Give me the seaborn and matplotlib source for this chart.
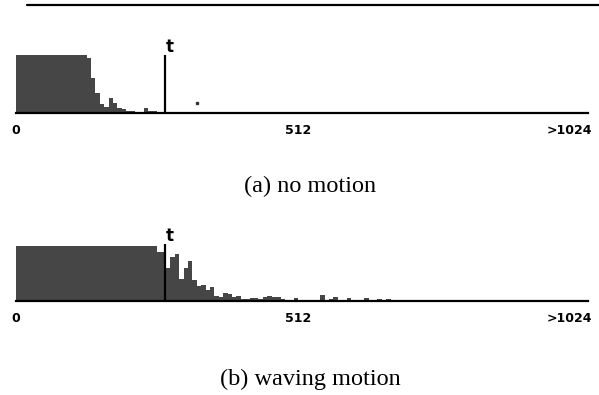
import numpy as np
import pandas as pd
import matplotlib
matplotlib.use("Agg")
import matplotlib.pyplot as plt
from matplotlib.lines import Line2D
from matplotlib.transforms import ScaledTranslation
import seaborn as sns

# ---------------- data ----------------
BIN_WIDTH = 8          # histogram bin width (value units)
T_VALUE = 270          # threshold "t"
X_MAX = 1038           # right end of the axis line
tick_values = [0, 256, 512, 768, 1024]
tick_labels = ["0", "", "512", "", ">1024"]

# (a) no motion : counts per bin (percent of full scale, clipped at 100)
counts_a = [100, 100, 100, 100, 100, 100, 100, 100, 100, 100, 100, 100, 100, 100, 100, 100,
            95, 60, 35, 16, 11, 26, 17, 9, 7, 4, 4, 2, 2, 9, 3, 3, 2, 2,
            0, 0, 0, 0, 0, 0, 0, 0, 0, 0, 0, 0, 0, 0, 0, 0, 0, 0, 0, 0, 0, 0, 0, 0, 0,
            2.5, 2.5, 2.5, 2.5, 2.5, 2.5, 2.5, 2.5, 2.5, 2.5, 2.5, 2.5, 2.5, 2.5, 2.5,
            2.5, 2.5, 2.5, 2.5, 2.5]
speck_a_x = [328]
speck_a_y = [17]

# (b) waving motion
counts_b = [100, 100, 100, 100, 100, 100, 100, 100, 100, 100, 100, 100, 100, 100, 100, 100,
            100, 100, 100, 100, 100, 100, 100, 100, 100, 100, 100, 100, 100, 100, 100, 100,
            90, 90, 60, 80, 85, 40, 60, 72, 38, 28, 30, 20, 25, 9, 8, 14, 12, 8, 10, 3,
            4, 5, 5, 3, 8, 10, 7, 8, 3, 2, 2, 6, 2, 2, 2, 2, 2, 11, 2, 4, 7, 2, 2, 6,
            2, 2, 2, 6, 2, 2, 4, 2, 3]

captions = ["(a) no motion", "(b) waving motion"]

# ---------------- figure ----------------
W, H = 599, 395
fig = plt.figure(figsize=(W / 100, H / 100), dpi=100)
sns.set_style("white")
plt.rcParams['font.family'] = ['DejaVu Sans']

BAR_COLOR = "#464646"

def px_axes(left, top, right, bottom):
    return fig.add_axes([left / W, 1 - bottom / H, (right - left) / W, (bottom - top) / H])

panels = [
    (counts_a, px_axes(16, 55, 588, 113), captions[0], 186),
    (counts_b, px_axes(16, 246, 588, 301), captions[1], 379),
]

for k, (counts, ax, cap, cap_y) in enumerate(panels):
    centers = np.arange(len(counts)) * BIN_WIDTH + BIN_WIDTH / 2
    df = pd.DataFrame({"value": centers, "count": counts})
    sns.histplot(data=df, x="value", weights="count", binwidth=BIN_WIDTH,
                 binrange=(0, len(counts) * BIN_WIDTH), element="bars",
                 color=BAR_COLOR, alpha=1, linewidth=0, ax=ax)
    ax.set_xlim(0, X_MAX)
    ax.set_ylim(0, 100)
    ax.set_xlabel("")
    ax.set_ylabel("")
    ax.set_yticks([])
    ax.set_xticks(tick_values)
    ax.set_xticklabels(tick_labels)
    ax.tick_params(axis="x", direction="out", length=6, width=1, pad=2,
                   labelsize=9, colors="black")
    for lab in ax.get_xticklabels():
        lab.set_fontweight("bold")
    last = ax.get_xticklabels()[-1]
    last.set_horizontalalignment("right")
    last.set_transform(last.get_transform() + ScaledTranslation(12 / 100, 0, fig.dpi_scale_trans))
    for sp in ["left", "top", "right"]:
        ax.spines[sp].set_visible(False)
    ax.spines["bottom"].set_linewidth(1.6)
    ax.spines["bottom"].set_color("black")
    ax.patch.set_alpha(0)
    # threshold line
    ax.plot([T_VALUE, T_VALUE], [0, 104 if k == 1 else 100], color="black", lw=1.6,
            clip_on=False, solid_capstyle="butt")
    ax.text(T_VALUE + 2, 98 if k == 0 else 102, "t", fontsize=12, fontweight="bold",
            ha="left", va="bottom", color="black")
    if k == 0:
        ax.plot(speck_a_x, speck_a_y, "s", ms=1.5, color="#333333")
    fig.text(310 / W, 1 - cap_y / H, cap, ha="center", va="center",
             family=["Liberation Serif", "DejaVu Serif"], fontsize=17.5, color="black")

# top rule
fig.add_artist(Line2D([27 / W, 1.0], [1 - 5 / H, 1 - 5 / H], color="black", lw=1.6))

fig.savefig("out.png", dpi=100)
